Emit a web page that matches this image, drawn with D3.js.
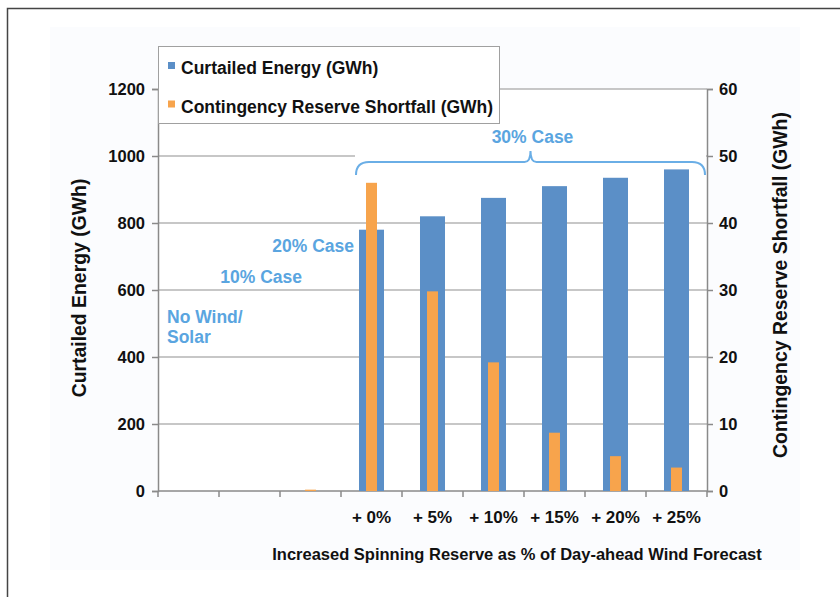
<!DOCTYPE html>
<html>
<head>
<meta charset="utf-8">
<script src="https://cdn.jsdelivr.net/npm/d3@7"></script>
<style>
  body { margin: 0; background: #fff; }
  svg text { font-family: "Liberation Sans", Arial, sans-serif; font-weight: bold; }
</style>
</head>
<body>
<div id="chart"></div>
<script>
// categories (first three = earlier cases, no reserve increase shown)
var categories = ["none", "case10", "case20", "p0", "p5", "p10", "p15", "p20", "p25"];
var tickLabels = ["", "", "", "+ 0%", "+ 5%", "+ 10%", "+ 15%", "+ 20%", "+ 25%"];
var curtailed = [0, 0, 0, 780, 820, 875, 910, 935, 960];      // GWh, left axis
var shortfall = [0, 0, 0.2, 46, 29.8, 19.2, 8.7, 5.2, 3.5];   // GWh, right axis
var leftTicks = [0, 200, 400, 600, 800, 1000, 1200];
var rightTicks = [0, 10, 20, 30, 40, 50, 60];

var width = 840, height = 597;
var plot = { left: 158, right: 707, top: 89, bottom: 491 };

var svg = d3.select("#chart").append("svg")
  .attr("width", width)
  .attr("height", height);

// outer frame + faint slide background
svg.append("rect").attr("x", 7.5).attr("y", 8.5).attr("width", 900).attr("height", 700)
  .attr("fill", "#fff").attr("stroke", "#444").attr("stroke-width", 1.5);
svg.append("rect").attr("x", 50).attr("y", 27).attr("width", 750).attr("height", 543)
  .attr("fill", "#fbfcfe");
svg.append("rect").attr("x", plot.left).attr("y", plot.top)
  .attr("width", plot.right - plot.left).attr("height", plot.bottom - plot.top)
  .attr("fill", "#fff");

var x = d3.scaleBand().domain(categories).range([plot.left, plot.right]).padding(0);
var yL = d3.scaleLinear().domain([0, 1200]).range([plot.bottom, plot.top]);
var yR = d3.scaleLinear().domain([0, 60]).range([plot.bottom, plot.top]);

// gridlines
svg.append("g").selectAll("line")
  .data(leftTicks.slice(1))
  .enter().append("line")
  .attr("x1", plot.left).attr("x2", plot.right)
  .attr("y1", function(d) { return yL(d); })
  .attr("y2", function(d) { return yL(d); })
  .attr("stroke", "#b4b4b4").attr("stroke-width", 1.5);

// left axis
var gL = svg.append("g").attr("transform", "translate(" + plot.left + ",0)")
  .call(d3.axisLeft(yL).tickValues(leftTicks).tickFormat(d3.format("d")).tickSize(6).tickPadding(7));
// right axis
var gR = svg.append("g").attr("transform", "translate(" + plot.right + ",0)")
  .call(d3.axisRight(yR).tickValues(rightTicks).tickFormat(d3.format("d")).tickSize(6).tickPadding(6));
// bottom axis: ticks on band edges
var edges = categories.map(function(c) { return x(c); }).concat([plot.right]);
var gB = svg.append("g");
gB.append("line").attr("x1", plot.left).attr("x2", plot.right)
  .attr("y1", plot.bottom).attr("y2", plot.bottom)
  .attr("stroke", "#8a8a8a").attr("stroke-width", 1.5);
gB.selectAll("line.tk").data(edges).enter().append("line").attr("class", "tk")
  .attr("x1", function(d) { return d; }).attr("x2", function(d) { return d; })
  .attr("y1", plot.bottom).attr("y2", plot.bottom + 6)
  .attr("stroke", "#8a8a8a").attr("stroke-width", 1.5);
gB.selectAll("text").data(categories).enter().append("text")
  .attr("x", function(d) { return x(d) + x.bandwidth() / 2; })
  .attr("y", 523)
  .attr("text-anchor", "middle")
  .style("font-size", "17px")
  .attr("fill", "#111")
  .text(function(d, i) { return tickLabels[i]; });

[gL, gR].forEach(function(g) {
  g.select(".domain").attr("stroke", "#8a8a8a").attr("stroke-width", 1.5);
  g.selectAll(".tick line").attr("stroke", "#8a8a8a").attr("stroke-width", 1.5);
  g.selectAll(".tick text").style("font-size", "16.5px").attr("fill", "#111")
    .style("font-family", "Liberation Sans, Arial, sans-serif").style("font-weight", "bold");
});

// bars
var bw = x.bandwidth() * 0.41, ow = x.bandwidth() * 0.18;
svg.append("g").selectAll("rect")
  .data(curtailed)
  .enter().append("rect")
  .attr("x", function(d, i) { return x(categories[i]) + (x.bandwidth() - bw) / 2; })
  .attr("width", bw)
  .attr("y", function(d) { return yL(d); })
  .attr("height", function(d) { return plot.bottom - yL(d); })
  .attr("fill", "#5b8fc7");
svg.append("g").selectAll("rect")
  .data(shortfall)
  .enter().append("rect")
  .attr("x", function(d, i) { return x(categories[i]) + (x.bandwidth() - ow) / 2; })
  .attr("width", ow)
  .attr("y", function(d) { return yR(d); })
  .attr("height", function(d) { return plot.bottom - yR(d); })
  .attr("fill", "#f7a44c");

// 30% case brace (white box behind hides the 1000 gridline)
var bx0 = x("p0") + 15, bx1 = plot.right - 2, bmid = (bx0 + bx1) / 2;
svg.append("rect").attr("x", 355).attr("y", 150).attr("width", plot.right - 356).attr("height", 10)
  .attr("fill", "#fff");
var by = 162;
svg.append("path")
  .attr("d", "M" + bx0 + ",175 Q" + bx0 + "," + by + " " + (bx0 + 13) + "," + by +
    " L" + (bmid - 6) + "," + by + " Q" + bmid + "," + by + " " + bmid + "," + (by - 11) +
    " Q" + bmid + "," + by + " " + (bmid + 6) + "," + by +
    " L" + (bx1 - 13) + "," + by + " Q" + bx1 + "," + by + " " + bx1 + ",175")
  .attr("fill", "none").attr("stroke", "#6aaee6").attr("stroke-width", 2);

// annotations
var noteColor = "#5aa5e0";
function note(txt, xx, yy, anchor) {
  svg.append("text").attr("x", xx).attr("y", yy).attr("text-anchor", anchor || "start")
    .attr("fill", noteColor).style("font-size", "17.5px").text(txt);
}
note("30% Case", bmid + 2, 143, "middle");
note("20% Case", 354, 252, "end");
note("10% Case", 302, 283, "end");
note("No Wind/", 167, 323);
note("Solar", 167, 343);

// axis titles
svg.append("text").attr("transform", "translate(86,288) rotate(-90)")
  .attr("text-anchor", "middle").style("font-size", "19.4px").attr("fill", "#111")
  .text("Curtailed Energy (GWh)");
svg.append("text").attr("transform", "translate(787,285) rotate(-90)")
  .attr("text-anchor", "middle").style("font-size", "19.4px").attr("fill", "#111")
  .text("Contingency Reserve Shortfall (GWh)");
svg.append("text").attr("x", 517).attr("y", 560)
  .attr("text-anchor", "middle").style("font-size", "16.5px").attr("fill", "#111")
  .text("Increased Spinning Reserve as % of Day-ahead Wind Forecast");

// legend
var lg = svg.append("g");
lg.append("rect").attr("x", 158.5).attr("y", 46.5).attr("width", 341).attr("height", 77)
  .attr("fill", "#fff").attr("stroke", "#a0a0a0").attr("stroke-width", 1);
var legendItems = [["Curtailed Energy (GWh)", "#5b8fc7"], ["Contingency Reserve Shortfall (GWh)", "#f7a44c"]];
legendItems.forEach(function(it, i) {
  var yy = 74 + i * 38.5;
  lg.append("rect").attr("x", 168).attr("y", yy - 12).attr("width", 7).attr("height", 7).attr("fill", it[1]);
  lg.append("text").attr("x", 181).attr("y", yy).style("font-size", "17.5px").attr("fill", "#111").text(it[0]);
});
</script>
</body>
</html>
